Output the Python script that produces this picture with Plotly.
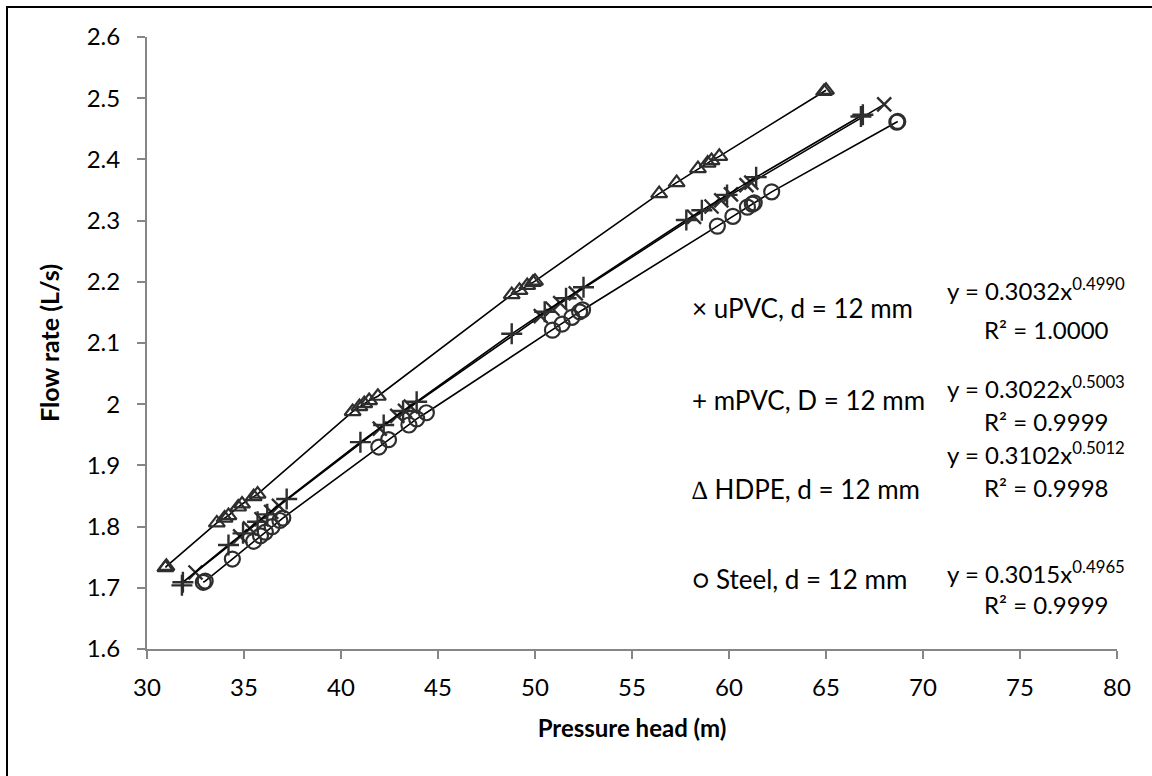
import plotly.graph_objects as go

# ---- data ----
upvc_x = [32.5, 34.8, 35.3, 35.9, 36.4, 36.8, 42.0, 42.9, 43.3, 43.6, 50.3, 50.9, 51.3, 52.1,
          58.2, 59.1, 59.6, 60.1, 60.9, 61.15, 68.0]
upvc_y = [1.725, 1.784, 1.797, 1.812, 1.824, 1.834, 1.960, 1.981, 1.989, 1.996, 2.144, 2.156, 2.165, 2.181,
          2.306, 2.323, 2.333, 2.343, 2.358, 2.362, 2.490]

mpvc_x = [31.8, 31.85, 34.2, 34.95, 35.7, 36.2, 37.2, 41.0, 42.2, 43.2, 43.9, 48.8, 50.5, 51.6, 52.5,
          57.8, 58.6, 59.9, 61.4, 66.8, 66.9]
mpvc_y = [1.704, 1.709, 1.770, 1.789, 1.808, 1.820, 1.845, 1.938, 1.966, 1.989, 2.004, 2.115, 2.151, 2.173, 2.191,
          2.301, 2.317, 2.342, 2.371, 2.470, 2.473]

hdpe_x = [30.95, 31.0, 33.6, 34.0, 34.2, 34.7, 34.9, 35.5, 35.7, 40.6, 40.95, 41.2, 41.45, 41.9,
          48.8, 49.2, 49.6, 49.9, 50.0, 56.4, 57.3, 58.4, 58.9, 59.1, 59.5, 64.9, 65.0]
hdpe_y = [1.733, 1.735, 1.806, 1.814, 1.818, 1.832, 1.837, 1.849, 1.853, 1.988, 1.996, 2.001, 2.006, 2.013,
          2.179, 2.186, 2.194, 2.199, 2.201, 2.344, 2.362, 2.385, 2.394, 2.398, 2.405, 2.511, 2.513]

steel_x = [32.9, 33.0, 34.4, 35.5, 35.85, 36.1, 36.45, 36.85, 37.0, 41.95, 42.45, 43.5, 43.9, 44.4,
           50.9, 51.4, 51.9, 52.3, 52.45, 59.4, 60.2, 60.95, 61.2, 61.3, 62.2, 68.65, 68.7]
steel_y = [1.709, 1.711, 1.747, 1.776, 1.785, 1.791, 1.800, 1.810, 1.814, 1.930, 1.942, 1.966, 1.976, 1.986,
           2.121, 2.131, 2.142, 2.151, 2.154, 2.291, 2.307, 2.322, 2.327, 2.329, 2.347, 2.461, 2.462]

legend_labels = ["× uPVC, d = 12 mm", "+ mPVC, D = 12 mm", "∆ HDPE, d = 12 mm", "○ Steel, d = 12 mm"]
equations = ["y = 0.3032x<sup>0.4990</sup>", "y = 0.3022x<sup>0.5003</sup>",
             "y = 0.3102x<sup>0.5012</sup>", "y = 0.3015x<sup>0.4965</sup>"]
r2_labels = ["R² = 1.0000", "R² = 0.9999", "R² = 0.9998", "R² = 0.9999"]

x_ticks = [30, 35, 40, 45, 50, 55, 60, 65, 70, 75, 80]
y_ticks = [1.6, 1.7, 1.8, 1.9, 2.0, 2.1, 2.2, 2.3, 2.4, 2.5, 2.6]

FONT = "Lato"
MK = "#2e2e2e"

# plot-area geometry in pixels
W, H = 1152, 776
L, R, T, B = 147, 1117, 37, 649
PW, PH = R - L, B - T


def px(xp):
    return (xp - L) / PW


def py(yp):
    return (B - yp) / PH


fig = go.Figure()

series = [
    (upvc_x, upvc_y, "x-thin", 14, 2.4, legend_labels[0]),
    (mpvc_x, mpvc_y, "cross-thin", 15, 2.4, legend_labels[1]),
    (hdpe_x, hdpe_y, "triangle-up-open", 14, 2.2, legend_labels[2]),
    (steel_x, steel_y, "circle-open", 15, 2.2, legend_labels[3]),
]
for xs, ys, sym, size, lw, name in series:
    fig.add_trace(go.Scatter(
        x=xs, y=ys, mode="lines+markers", name=name,
        line=dict(color="black", width=1.6),
        marker=dict(symbol=sym, size=size, color=MK,
                    line=dict(color=MK, width=lw)),
        showlegend=False,
    ))

axis_common = dict(
    showgrid=False, zeroline=False, showline=True, linecolor="#868686", linewidth=2,
    ticks="outside", ticklen=8, tickwidth=2, tickcolor="#868686",
    tickfont=dict(family=FONT, size=24, color="black"),
    mirror=False,
)

fig.update_xaxes(range=[30, 80], tickvals=x_ticks, ticktext=[str(v) for v in x_ticks],
                 ticklabelstandoff=8,
                 title=dict(text="<b>Pressure head (m)</b>", standoff=20,
                            font=dict(family=FONT, size=24, color="black")),
                 **axis_common)
fig.update_yaxes(range=[1.6, 2.6], tickvals=y_ticks, ticktext=[f"{v:g}" for v in y_ticks],
                 ticklabelstandoff=12,
                 title=dict(text="<b>Flow rate (L/s)</b>", standoff=20,
                            font=dict(family=FONT, size=25, color="black")),
                 **axis_common)

annotations = []
label_y = [308, 400, 489, 579]
eq_y = [289, 387, 453, 572]
r2_y = [329, 421, 487, 604]
for i in range(4):
    annotations.append(dict(x=px(690), y=py(label_y[i]), xref="paper", yref="paper",
                            text=legend_labels[i], showarrow=False, xanchor="left", yanchor="middle",
                            font=dict(family=FONT, size=26, color="black")))
    annotations.append(dict(x=px(1036), y=py(eq_y[i]), xref="paper", yref="paper",
                            text=equations[i], showarrow=False, xanchor="center", yanchor="middle",
                            font=dict(family=FONT, size=24, color="black")))
    annotations.append(dict(x=px(1046), y=py(r2_y[i]), xref="paper", yref="paper",
                            text=r2_labels[i], showarrow=False, xanchor="center", yanchor="middle",
                            font=dict(family=FONT, size=24, color="black")))

fig.update_layout(
    width=W, height=H,
    margin=dict(l=L, r=W - R, t=T, b=H - B),
    paper_bgcolor="white", plot_bgcolor="white",
    annotations=annotations,
    shapes=[dict(type="rect", xref="paper", yref="paper",
                 x0=px(7), x1=px(1170), y0=py(800), y1=py(7),
                 line=dict(color="black", width=2), fillcolor="rgba(0,0,0,0)", layer="below")],
)

fig.write_html("out.html")
